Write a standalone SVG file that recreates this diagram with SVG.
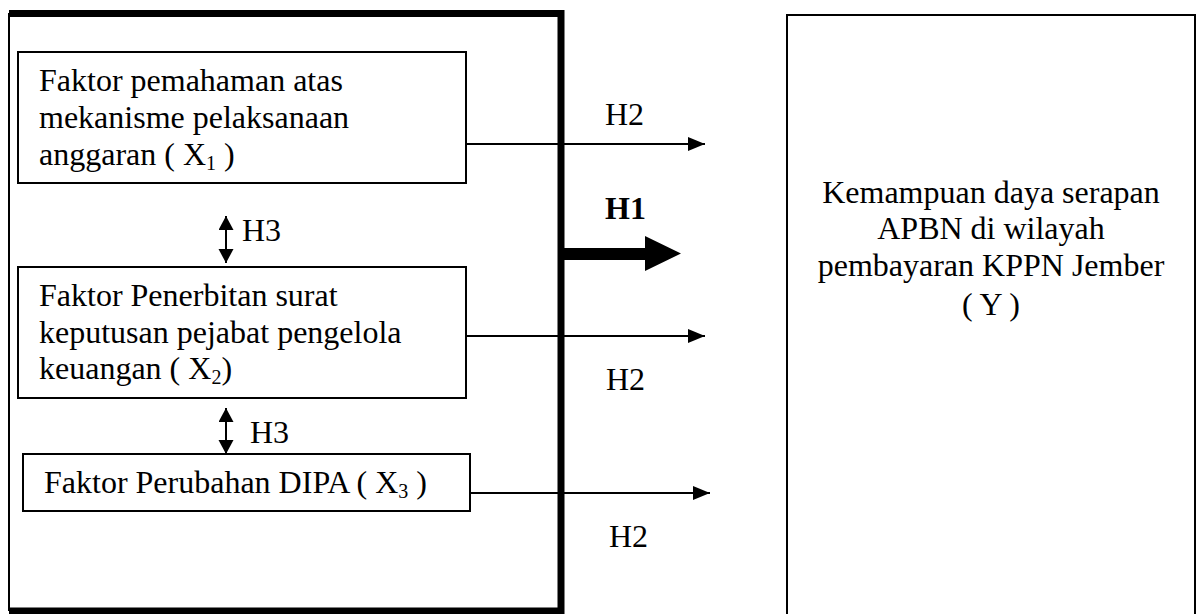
<svg xmlns="http://www.w3.org/2000/svg" width="1197" height="614" viewBox="0 0 1197 614">
<style>
  text { font-family: "Liberation Serif", "Times New Roman", serif; font-size: 32px; fill: #000; }
  .b { font-weight: bold; }
  .box { fill: #fff; stroke: #000; stroke-width: 2; }
  .ln { fill: none; stroke: #000; stroke-width: 2; }
  .sub { font-size: 20px; }
</style>
<defs>
  <marker id="ah" markerUnits="userSpaceOnUse" markerWidth="18" markerHeight="15" refX="17" refY="7" orient="auto">
    <path d="M0,0 L17,7 L0,14 z" fill="#000"/>
  </marker>
  <marker id="dh" markerUnits="userSpaceOnUse" markerWidth="15" markerHeight="16" refX="14" refY="7.5" orient="auto-start-reverse">
    <path d="M0,0 L14,7.5 L0,15 z" fill="#000"/>
  </marker>
</defs>
<rect width="1197" height="614" fill="#fff"/>

<g id="outer">
  <path d="M9,13 V611" class="ln"/>
  <path d="M9,13.5 H561 V611 H9" fill="none" stroke="#000" stroke-width="7"/>
</g>

<g id="x1">
  <rect class="box" x="18" y="52" width="448" height="131"/>
  <text x="39" y="91">Faktor pemahaman atas</text>
  <text x="39" y="128">mekanisme pelaksanaan</text>
  <text x="39" y="165">anggaran ( X<tspan class="sub" dy="5">1</tspan><tspan dy="-5"> )</tspan></text>
</g>

<g id="x2">
  <rect class="box" x="18" y="267" width="448" height="131"/>
  <text x="39" y="306">Faktor Penerbitan surat</text>
  <text x="39" y="343">keputusan pejabat pengelola</text>
  <text x="39" y="379">keuangan ( X<tspan class="sub" dy="5">2</tspan><tspan dy="-5">)</tspan></text>
</g>

<g id="x3">
  <rect class="box" x="23" y="454" width="447" height="57"/>
  <text x="44" y="493">Faktor Perubahan DIPA ( X<tspan class="sub" dy="5">3</tspan><tspan dy="-5"> )</tspan></text>
</g>

<g id="y">
  <rect class="box" x="787" y="15" width="408" height="610"/>
  <text x="991" y="203" text-anchor="middle">Kemampuan daya serapan</text>
  <text x="991" y="239" text-anchor="middle">APBN di wilayah</text>
  <text x="991" y="276" text-anchor="middle">pembayaran KPPN Jember</text>
  <text x="991" y="315" text-anchor="middle">( Y )</text>
</g>

<g id="connectors">
  <line class="ln" x1="466" y1="144" x2="705" y2="144" marker-end="url(#ah)"/>
  <line class="ln" x1="466" y1="336" x2="705" y2="336" marker-end="url(#ah)"/>
  <line class="ln" x1="470" y1="493" x2="710" y2="493" marker-end="url(#ah)"/>
  <path d="M561,248 H645 V236 L681,253.5 L645,271 V260 H561 z" fill="#000"/>
  <line class="ln" x1="226" y1="216" x2="226" y2="263" marker-start="url(#dh)" marker-end="url(#dh)"/>
  <line class="ln" x1="226" y1="408" x2="226" y2="454" marker-start="url(#dh)" marker-end="url(#dh)"/>
  <text x="605" y="125">H2</text>
  <text class="b" x="605" y="219">H1</text>
  <text x="606" y="390">H2</text>
  <text x="609" y="547">H2</text>
  <text x="242" y="241">H3</text>
  <text x="250" y="443">H3</text>
</g>
</svg>
